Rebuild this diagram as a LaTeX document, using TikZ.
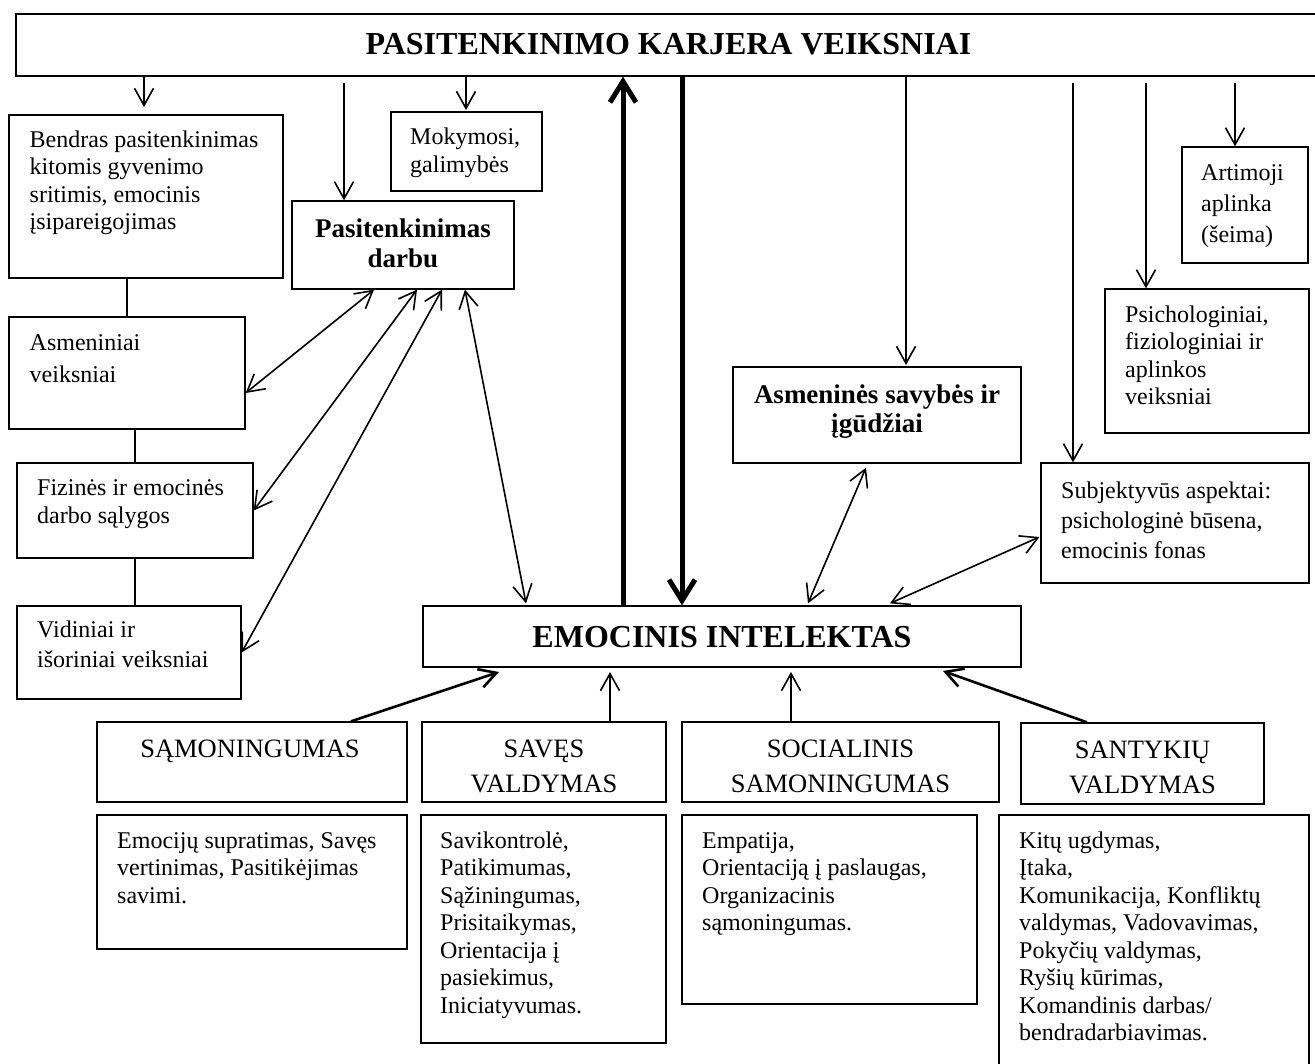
\documentclass[tikz,border=0pt]{standalone}
\usepackage{fontspec}
\setmainfont{Liberation Serif}
\usetikzlibrary{arrows.meta,fit}
% invisible rule that fixes the height of the first line of a text block
\newcommand\lineup{\rule{0pt}{0.8em}}
\begin{document}
\begin{tikzpicture}[x=1pt,y=-1pt,
  box/.style={draw, line width=1.3pt, inner sep=0pt},
  body/.style={inner sep=0pt, align=left, anchor=north west},
  bl/.style={inner sep=0pt, align=center, anchor=north, font=\bfseries\fontsize{27}{30}\selectfont},
  capl/.style={inner sep=0pt, align=center, anchor=north, font=\fontsize{26.5}{35}\selectfont},
  big/.style={inner sep=0pt, anchor=base, font=\bfseries\fontsize{32}{36}\selectfont},
  ln/.style={line width=1.5pt},
  arr/.style={line width=1.6pt, -{Straight Barb[length=17pt,width=19pt]}},
  arrb/.style={line width=2.6pt, -{Straight Barb[length=17pt,width=19pt]}},
  darr/.style={line width=1.6pt, {Straight Barb[length=17pt,width=19pt]}-{Straight Barb[length=17pt,width=19pt]}},
  thk/.style={line width=5pt, -{Straight Barb[length=21pt,width=26pt]}}]

\useasboundingbox (0,0) rectangle (1315,1064);
\fill[white] (0,0) rectangle (1315,1064);

% ---------- boxes ----------
\node[box, fit={(16,14) (1321,76)}] (top) {};
\node[box, fit={(9,115) (283,278)}] (bendras) {};
\node[box, fit={(391,112) (542,191)}] (mok) {};
\node[box, fit={(292,201) (514,289)}] (pd) {};
\node[box, fit={(9,317) (245,429)}] (asm) {};
\node[box, fit={(17,463) (253,558)}] (fiz) {};
\node[box, fit={(17,606) (241,699)}] (vid) {};
\node[box, fit={(1182,147) (1308,263)}] (art) {};
\node[box, fit={(1105,289) (1309,433)}] (psi) {};
\node[box, fit={(733,367) (1021,463)}] (sav) {};
\node[box, fit={(1041,463) (1309,583)}] (subj) {};
\node[box, fit={(423,606) (1021,667)}] (ei) {};
\node[box, fit={(97,722) (407,802)}] (sam) {};
\node[box, fit={(422,722) (666,802)}] (sv) {};
\node[box, fit={(682,722) (999,802)}] (so) {};
\node[box, fit={(1021,723) (1264,804)}] (sa) {};
\node[box, fit={(97,815) (407,949)}] (emo) {};
\node[box, fit={(421,815) (666,1043)}] (svd) {};
\node[box, fit={(682,815) (977,1004)}] (emp) {};
\node[box, fit={(999,815) (1309,1080)}] (kit) {};

% ---------- texts ----------
\node[big] (top-t) at (668.5,55) {PASITENKINIMO KARJERA VEIKSNIAI};
\node[big] (ei-t) at (722,647) {EMOCINIS INTELEKTAS};

\node[body, font=\fontsize{24}{27.6}\selectfont] (bendras-t) at (29.5,127.8)
  {\lineup Bendras pasitenkinimas\\kitomis gyvenimo\\sritimis, emocinis\\įsipareigojimas};
\node[body, font=\fontsize{24}{28}\selectfont] (mok-t) at (410,124.8)
  {\lineup Mokymosi,\\galimybės};
\node[bl] (pd-t) at (403,215.4) {\lineup Pasitenkinimas\\darbu};
\node[body, font=\fontsize{24}{32}\selectfont] (asm-t) at (29.5,330.8)
  {\lineup Asmeniniai\\veiksniai};
\node[body, font=\fontsize{24}{28}\selectfont] (fiz-t) at (37,475.8)
  {\lineup Fizinės ir emocinės\\darbo sąlygos};
\node[body, font=\fontsize{24}{30}\selectfont] (vid-t) at (37,617.8)
  {\lineup Vidiniai ir\\išoriniai veiksniai};
\node[body, font=\fontsize{24}{31}\selectfont] (art-t) at (1201,160.8)
  {\lineup Artimoji\\aplinka\\(šeima)};
\node[body, font=\fontsize{24}{27.5}\selectfont] (psi-t) at (1125,302.8)
  {\lineup Psichologiniai,\\fiziologiniai ir\\aplinkos\\veiksniai};
\node[bl, font=\bfseries\fontsize{27}{29}\selectfont] (sav-t) at (877,381.4)
  {\lineup Asmeninės savybės ir\\įgūdžiai};
\node[body, font=\fontsize{24}{30}\selectfont] (subj-t) at (1061,478.8)
  {\lineup Subjektyvūs aspektai:\\psichologinė būsena,\\emocinis fonas};

\node[capl] (sam-t) at (250,735.8) {\lineup SĄMONINGUMAS};
\node[capl] (sv-t) at (544,735.8) {\lineup SAVĘS\\VALDYMAS};
\node[capl] (so-t) at (840.5,735.8) {\lineup SOCIALINIS\\SAMONINGUMAS};
\node[capl] (sa-t) at (1142.5,736.8) {\lineup SANTYKIŲ\\VALDYMAS};

\node[body, font=\fontsize{24}{27.5}\selectfont] (emo-t) at (117,828.8)
  {\lineup Emocijų supratimas, Savęs\\vertinimas, Pasitikėjimas\\savimi.};
\node[body, font=\fontsize{24}{27.5}\selectfont] (svd-t) at (440,828.8)
  {\lineup Savikontrolė,\\Patikimumas,\\Sąžiningumas,\\Prisitaikymas,\\Orientacija į\\pasiekimus,\\Iniciatyvumas.};
\node[body, font=\fontsize{24}{27.5}\selectfont] (emp-t) at (702,828.8)
  {\lineup Empatija,\\Orientaciją į paslaugas,\\Organizacinis\\sąmoningumas.};
\node[body, font=\fontsize{24}{27.5}\selectfont] (kit-t) at (1019,828.8)
  {\lineup Kitų ugdymas,\\Įtaka,\\Komunikacija, Konfliktų\\valdymas, Vadovavimas,\\Pokyčių valdymas,\\Ryšių kūrimas,\\Komandinis darbas/\\bendradarbiavimas.};

% ---------- arrow ends ----------
\coordinate (t1) at (144,107);
\coordinate (s2) at (344,83);
\coordinate (t3) at (466,110);
\coordinate (xu) at (623,0);
\coordinate (xd) at (682,0);
\coordinate (t6) at (906,365);
\coordinate (s7) at (1073,83);
\coordinate (s8) at (1146,83);
\coordinate (s9) at (1235,83);
\coordinate (b1) at (499,672);
\coordinate (b2) at (610,672);
\coordinate (b3) at (791,672);
\coordinate (b4) at (943,671);

% ---------- connectors from the top ----------
\draw[arr] (top.south -| t1) -- (t1);
\draw[arr] (s2) -- (s2 |- pd.north);
\draw[arr] (top.south -| t3) -- (t3);
\draw[thk] (ei.north -| xu) -- (top.south -| xu);
\draw[thk] (top.south -| xd) -- (ei.north -| xd);
\draw[arr] (top.south -| t6) -- (t6);
\draw[arr] (s7) -- (s7 |- subj.north);
\draw[arr] (s8) -- (s8 |- psi.north);
\draw[arr] (s9) -- (s9 |- art.north);

% ---------- left column links ----------
\draw[ln] (bendras.south -| asm.north) -- (asm.north);
\draw[ln] (asm.south -| fiz.north) -- (fiz.north);
\draw[ln] (fiz.south) -- (fiz.south |- vid.north);

% ---------- two-way links ----------
\draw[darr] ([xshift=-29pt]pd.south) -- ([yshift=-20pt]asm.east);
\draw[darr] ([xshift=14pt]pd.south) -- (fiz.east);
\draw[darr] ([xshift=39pt]pd.south) -- (vid.east);
\draw[darr] ([xshift=62pt]pd.south) -- ([xshift=-196pt,yshift=2pt]ei.north);
\draw[darr] ([xshift=-11pt,yshift=-4pt]sav.south) -- ([xshift=86pt,yshift=2pt]ei.north);
\draw[darr] ([xshift=-1pt,yshift=-14pt]subj.west) -- ([xshift=168pt,yshift=2pt]ei.north);

% ---------- components into EI ----------
\draw[arrb] ([xshift=99pt]sam.north) -- (b1);
\draw[arr] (sv.north -| b2) -- (b2);
\draw[arr] (so.north -| b3) -- (b3);
\draw[arrb] ([xshift=-55.5pt]sa.north) -- (b4);
\end{tikzpicture}
\end{document}
